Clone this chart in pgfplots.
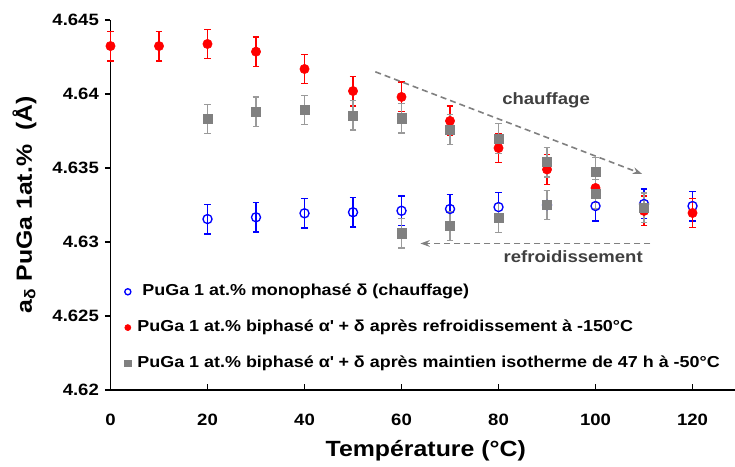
\documentclass[border=0pt]{standalone}
\usepackage{fontspec}
\setmainfont{Liberation Sans}[FakeStretch=1.13]
\usepackage{pgfplots}
\pgfplotsset{compat=1.18}
\usetikzlibrary{arrows.meta}
\definecolor{chauf}{HTML}{0000FF}
\definecolor{refr}{HTML}{FF0000}
\definecolor{isot}{HTML}{808080}
\definecolor{isotbar}{HTML}{9A9A9A}
\definecolor{annot}{HTML}{404040}
\newcommand{\smallbf}{\fontsize{12.3}{14}\selectfont\bfseries}
\newcommand{\legbf}{\fontsize{11.9}{14}\selectfont\bfseries}
\newcommand{\bigbf}{\fontsize{16.5}{19}\selectfont\bfseries}

\begin{document}
\begin{tikzpicture}
\begin{axis}[
    scale only axis,
    width=472.9pt, height=277.5pt,
    xmin=0, xmax=130, ymin=4.62, ymax=4.645,
    clip=false,
    axis lines*=left,
    axis line style={line width=0.8pt, black},
    xtick={0,20,40,60,80,100,120},
    ytick={4.62,4.625,4.63,4.635,4.64,4.645},
    xtick pos=bottom, ytick pos=left,
    xtick align=inside, ytick align=outside,
    major tick length=4.2pt,
    tick style={line width=0.8pt, black},
    scaled y ticks=false,
    /pgf/number format/assume math mode=true,
    tick label style={font=\smallbf},
    xticklabel style={anchor=base, yshift=-26.8pt},
    yticklabel style={/pgf/number format/fixed, /pgf/number format/precision=3,
        anchor=east, xshift=-1pt},
    xlabel={Température (°C)},
    ylabel={a\textsubscript{δ} PuGa 1at.\%~~(Å)},
    label style={font=\bigbf},
    xlabel style={at={(axis description cs:0.5,-0.181)}, anchor=base},
    ylabel style={at={(axis description cs:-0.1364,0.5)}, anchor=center},
    legend style={draw=none, fill=none, at={(rel axis cs:0.0203,0.295)},
        anchor=north west, inner sep=0pt, row sep=10.85pt, font=\legbf,
        nodes={text height=9pt, text depth=3pt}},
    legend cell align=left,
    legend image code/.code={\path (-3pt,0pt) (5pt,0pt);
        \draw[#1, mark size=2.3pt] plot coordinates {(0pt,0pt)};},
    error bars/y dir=both, error bars/y explicit,
]
\coordinate (O) at (rel axis cs:0,0);

% monophase delta (chauffage)
\addplot+[only marks, mark=o, draw=chauf, mark size=3.4pt,
    mark options={line width=1pt, draw=chauf, fill=none},
    error bars/error bar style={line width=1pt, color=chauf},
    error bars/error mark options={rotate=90, line width=1pt, color=chauf, mark size=2.6pt}]
coordinates {
    (20,4.63155) +- (0,0.001)
    (30,4.63167) +- (0,0.001)
    (40,4.63194) +- (0,0.001)
    (50,4.63201) +- (0,0.001)
    (60,4.63211) +- (0,0.001)
    (70,4.63223) +- (0,0.001)
    (80,4.63236) +- (0,0.001)
    (90,4.63250) +- (0,0.001)
    (100,4.63243) +- (0,0.001)
    (110,4.63257) +- (0,0.001)
    (120,4.63243) +- (0,0.001)
};
\addlegendentry{~PuGa 1 at.\% monophasé δ (chauffage)}

% biphase apres refroidissement a -150C
\addplot+[only marks, mark=*, mark size=3.5pt,
    mark options={draw=refr, fill=refr},
    error bars/error bar style={line width=1pt, color=refr},
    error bars/error mark options={rotate=90, line width=1pt, color=refr, mark size=2.6pt}]
coordinates {
    (0,4.64324) +- (0,0.001)
    (10,4.64324) +- (0,0.001)
    (20,4.64338) +- (0,0.001)
    (30,4.64286) +- (0,0.001)
    (40,4.64169) +- (0,0.001)
    (50,4.64020) +- (0,0.001)
    (60,4.63980) +- (0,0.001)
    (70,4.63818) +- (0,0.001)
    (80,4.63635) +- (0,0.001)
    (90,4.63490) +- (0,0.001)
    (100,4.63365) +- (0,0.001)
    (110,4.63210) +- (0,0.001)
    (120,4.63196) +- (0,0.001)
};
\addlegendentry{PuGa 1 at.\% biphasé α\textquotesingle{} + δ après refroidissement à -150°C}

% biphase apres maintien isotherme 47 h a -50C
\addplot+[only marks, mark=square*, mark size=3.4pt,
    mark options={draw=isot, fill=isot},
    error bars/error bar style={line width=1pt, color=isotbar},
    error bars/error mark options={rotate=90, line width=1pt, color=isotbar, mark size=2.6pt}]
coordinates {
    (20,4.63831) +- (0,0.001)
    (30,4.63880) +- (0,0.001)
    (40,4.63892) +- (0,0.001)
    (50,4.63856) +- (0,0.001)
    (60,4.63836) +- (0,0.001)
    (70,4.63760) +- (0,0.001)
    (80,4.63700) +- (0,0.001)
    (90,4.63540) +- (0,0.001)
    (100,4.63473) +- (0,0.001)
    (60,4.63059) +- (0,0.001)
    (70,4.63108) +- (0,0.001)
    (80,4.63162) +- (0,0.001)
    (90,4.63250) +- (0,0.001)
    (100,4.63324) +- (0,0.001)
    (110,4.63230) +- (0,0.001)
};
\addlegendentry{PuGa 1 at.\% biphasé α\textquotesingle{} + δ après maintien isotherme de 47 h à -50°C}

% annotations
\draw[isot, line width=1.2pt, dash pattern=on 4.5pt off 3pt,
    -{Stealth[length=7pt, width=5pt]}]
    (axis cs:54.6,4.6415) -- (axis cs:109.6,4.6346);
\draw[isot, line width=1.2pt, dash pattern=on 4.5pt off 3pt,
    -{Stealth[length=7pt, width=5pt]}]
    (axis cs:111.3,4.6299) -- (axis cs:63.9,4.6299);
\node[annot, font=\smallbf] at (axis cs:89.8,4.6396) {chauffage};
\node[annot, font=\smallbf] at (axis cs:95.4,4.6290) {refroidissement};
\end{axis}
\pgfresetboundingbox
\path[use as bounding box] ([shift={(-82.875pt,-57.75pt)}]O) rectangle ([shift={(468.375pt,292.5pt)}]O);
\end{tikzpicture}
\end{document}
